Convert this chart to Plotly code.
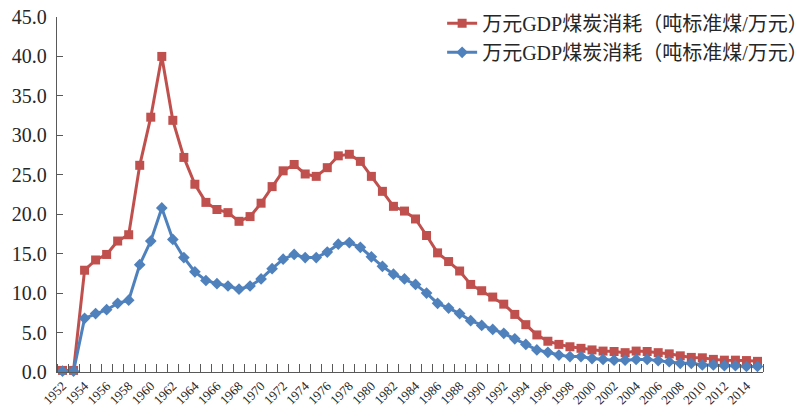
import plotly.graph_objects as go

years = list(range(1952, 2016))

series_name = "万元GDP煤炭消耗（吨标准煤/万元）"

red_values = [
    0.2, 0.2, 12.9, 14.2, 14.9, 16.6, 17.4, 26.2, 32.3, 40.0,
    31.9, 27.2, 23.8, 21.5, 20.6, 20.2, 19.1, 19.7, 21.4, 23.5,
    25.5, 26.3, 25.1, 24.8, 25.9, 27.4, 27.6, 26.7, 24.8, 22.9,
    21.0, 20.4, 19.4, 17.3, 15.1, 14.0, 12.8, 11.1, 10.3, 9.5,
    8.6, 7.3, 6.0, 4.7, 3.9, 3.5, 3.2, 3.0, 2.8, 2.65,
    2.6, 2.45, 2.65, 2.6, 2.45, 2.3, 2.05, 1.85, 1.8, 1.6,
    1.5, 1.5, 1.45, 1.35,
]

blue_values = [
    0.1, 0.1, 6.8, 7.4, 7.9, 8.7, 9.1, 13.6, 16.6, 20.8,
    16.8, 14.5, 12.7, 11.6, 11.2, 10.9, 10.5, 10.9, 11.8, 13.1,
    14.3, 14.9, 14.5, 14.5, 15.2, 16.2, 16.4, 15.8, 14.6, 13.4,
    12.4, 11.8, 11.1, 10.0, 8.7, 8.1, 7.4, 6.5, 5.9, 5.4,
    4.9, 4.2, 3.5, 2.8, 2.5, 2.15, 1.95, 1.95, 1.7, 1.6,
    1.5, 1.5, 1.6, 1.6, 1.45, 1.3, 1.1, 1.1, 0.9, 0.9,
    0.8, 0.8, 0.7, 0.7,
]

tick_years = list(range(1952, 2016, 2))
tick_labels = [str(y) for y in tick_years]
y_ticks = [0, 5, 10, 15, 20, 25, 30, 35, 40, 45]
y_labels = ["%.1f" % v for v in y_ticks]

RED = "#C0504D"
BLUE = "#4F81BD"
AXIS = "#595959"
TEXT = "#262626"
FONT = "Liberation Serif, 'Noto Sans CJK SC', serif"

fig = go.Figure()
fig.add_trace(go.Scatter(
    x=years, y=red_values, name=series_name, mode="lines+markers",
    line=dict(color=RED, width=3),
    marker=dict(symbol="square", size=9, color=RED),
    cliponaxis=False,
))
fig.add_trace(go.Scatter(
    x=years, y=blue_values, name=series_name, mode="lines+markers",
    line=dict(color=BLUE, width=3),
    marker=dict(symbol="diamond", size=9, color=BLUE),
    cliponaxis=False,
))

fig.update_layout(
    width=807, height=406,
    margin=dict(l=57, r=44, t=17, b=34, pad=0, autoexpand=False),
    paper_bgcolor="white", plot_bgcolor="white",
    font=dict(family=FONT, color=TEXT),
    showlegend=True,
    legend=dict(
        x=1.071, xanchor="right", y=1.037, yanchor="top",
        font=dict(family=FONT, size=20, color=TEXT),
        bgcolor="rgba(0,0,0,0)", tracegroupgap=0,
        itemwidth=30,
    ),
    xaxis=dict(
        range=[1951.5, 2015.5], automargin=False,
        tickmode="array", tickvals=tick_years, ticktext=tick_labels,
        tickangle=-45, ticks="", showgrid=False, zeroline=False,
        showline=True, linecolor=AXIS, linewidth=1.3,
        tickfont=dict(family=FONT, size=13, color=TEXT),
        minor=dict(tick0=1951.5, dtick=1, ticks="inside", ticklen=8,
                   tickcolor=AXIS, tickwidth=1.2, showgrid=False),
    ),
    yaxis=dict(
        range=[0, 45], automargin=False,
        tickmode="array", tickvals=y_ticks, ticktext=y_labels,
        ticks="inside", ticklen=6, tickcolor=AXIS, tickwidth=1.2,
        showgrid=False, zeroline=False,
        showline=True, linecolor=AXIS, linewidth=1.3,
        ticklabelstandoff=5,
        tickfont=dict(family=FONT, size=20, color=TEXT),
    ),
)

fig.write_html(
    "out.html",
    config={"displayModeBar": False},
    post_script="document.body.style.margin='0px';document.body.style.overflow='hidden';",
)
